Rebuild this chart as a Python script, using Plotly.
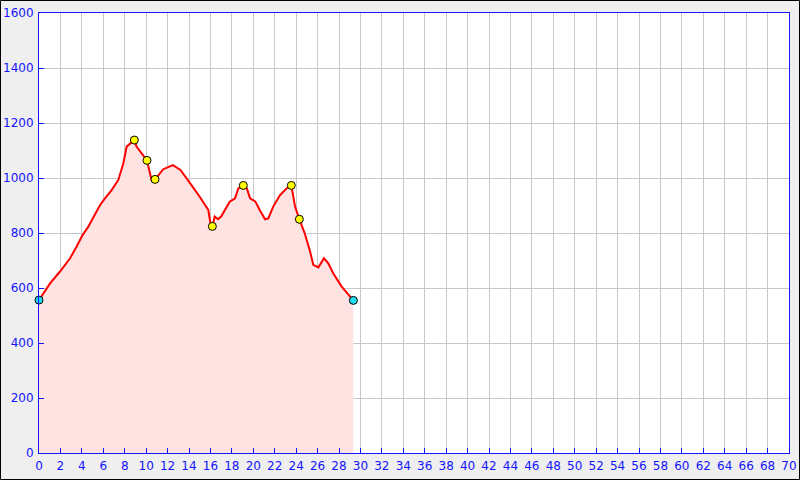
import plotly.graph_objects as go

# Elevation profile (distance in km, elevation in m)
dist_km = [0.0, 1.03, 1.96, 2.9, 3.5, 4.07, 4.6, 5.2, 5.7, 6.16, 6.78, 7.4, 7.87, 8.18, 8.5,
           8.9, 9.1, 9.74, 10.08, 10.5, 10.83, 11.6, 12.5, 13.2, 13.8, 14.4, 15.0, 15.4, 15.8,
           16.0, 16.18, 16.4, 16.7, 17.0, 17.8, 18.3, 18.6, 19.07, 19.4, 19.7, 20.2, 20.6,
           21.1, 21.4, 21.87, 22.5, 23.1, 23.55, 23.7, 23.9, 24.3, 24.8, 25.3, 25.6, 26.07,
           26.6, 27.0, 27.47, 28.25, 28.87, 29.34]
elev_m = [556, 617, 660, 708, 750, 793, 823, 865, 902, 926, 956, 993, 1053, 1114, 1126,
          1138, 1114, 1084, 1064, 993, 995, 1032, 1047, 1029, 999, 965, 932, 910, 884,
          835, 824, 860, 850, 860, 914, 926, 962, 973, 962, 926, 914, 884,
          850, 853, 897, 938, 962, 973, 944, 896, 850, 799, 733, 684, 675,
          708, 690, 653, 605, 575, 555]

# Waypoints
wp_km = [8.9, 10.08, 10.83, 16.18, 19.07, 23.55, 24.3]
wp_m = [1138, 1064, 995, 824, 973, 973, 850]
end_km = [0.0, 29.34]
end_m = [556, 555]

x_ticks = list(range(0, 71, 2))
y_ticks = list(range(0, 1601, 200))

blue = "#1414ff"

fig = go.Figure()
fig.add_trace(go.Scatter(x=dist_km, y=elev_m, mode="lines", fill="tozeroy",
                         fillcolor="#ffe3e3", line=dict(color="#ff0000", width=2),
                         hoverinfo="skip"))
fig.add_trace(go.Scatter(x=wp_km, y=wp_m, mode="markers",
                         marker=dict(color="#ffff00", size=8, line=dict(color="#000000", width=1))))
fig.add_trace(go.Scatter(x=end_km, y=end_m, mode="markers",
                         marker=dict(color="#22ddee", size=8, line=dict(color="#000000", width=1)),
                         cliponaxis=False))

axis_common = dict(showgrid=True, gridcolor="#c8c8c8", gridwidth=1,
                   showline=True, linecolor=blue, linewidth=1, mirror=True,
                   ticks="inside", ticklen=5, tickcolor=blue,
                   tickfont=dict(family="DejaVu Sans", size=12, color=blue),
                   zeroline=False, automargin=False)

fig.update_layout(
    width=800, height=480,
    paper_bgcolor="#efefef", plot_bgcolor="#ffffff",
    margin=dict(l=39, r=11, t=13, b=27),
    showlegend=False,
    xaxis=dict(range=[0, 70], tickvals=x_ticks, ticklabelstandoff=2, **axis_common),
    yaxis=dict(range=[0, 1600], tickvals=y_ticks, ticklabelstandoff=2, **axis_common),
    shapes=[dict(type="rect", xref="paper", yref="paper",
                 x0=-38.5/750, x1=760.5/750, y0=-26.5/440, y1=1+12.5/440,
                 line=dict(color="#000000", width=1), layer="below")],
)

fig.write_html("out.html", config={"displayModeBar": False},
               post_script="document.body.style.margin='0';document.body.style.padding='0';")
